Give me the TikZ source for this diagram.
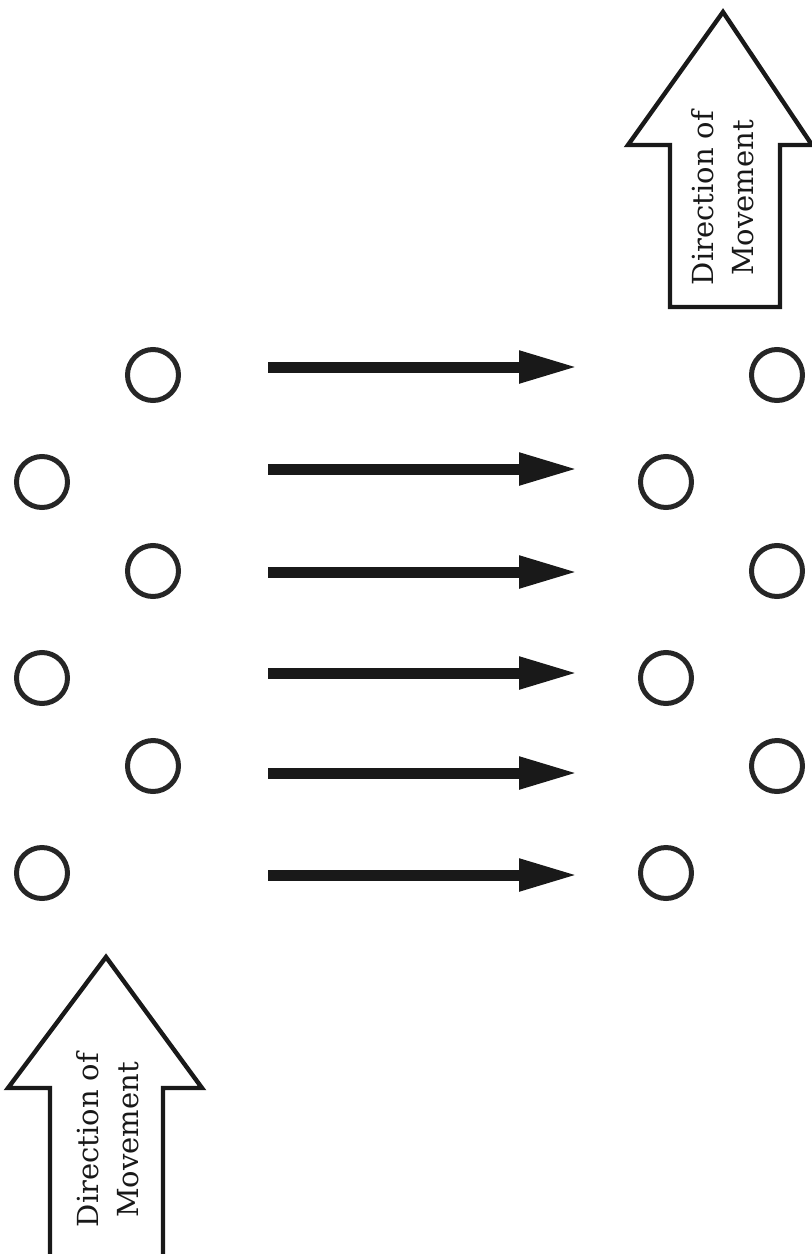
\documentclass[tikz,border=0pt]{standalone}
\usepackage{fontspec}
\newfontfamily\lblfont{DejaVu Serif}
\usetikzlibrary{arrows.meta}
\begin{document}
\begin{tikzpicture}[x=0.5pt,y=-0.5pt,
  dot/.style={circle,draw=black!85,line width=2.5pt,minimum size=25.5pt,inner sep=0pt},
  flow/.style={draw=black!90,line width=5.5pt,-{Triangle[length=29.5pt,width=15pt]}},
  bigarrow/.style={draw=black!90,line width=2.2pt,fill=white,line join=miter},
  lbl/.style={rotate=90,align=center,text=black!90,font=\lblfont\fontsize{14.5}{20}\selectfont}]
\useasboundingbox (0,0) rectangle (812,1254);
\clip (0,0) rectangle (812,1254);
% left group
\node[dot] (m1) at (153,375) {};
\node[dot] (l1) at (42,482) {};
\node[dot] (m2) at (153,571) {};
\node[dot] (l2) at (42,678) {};
\node[dot] (m3) at (153,766) {};
\node[dot] (l3) at (42,873) {};
% right group
\node[dot] (r1) at (777,375) {};
\node[dot] (q1) at (666,482) {};
\node[dot] (r2) at (777,571) {};
\node[dot] (q2) at (666,678) {};
\node[dot] (r3) at (777,766) {};
\node[dot] (q3) at (666,873) {};
% flow arrows
\foreach \i/\y in {1/367,2/469,3/572,4/673,5/773,6/875}{
  \coordinate (s\i) at (268,\y);
  \coordinate (e\i) at (578,\y);
  \draw[flow] (s\i) -- (e\i);
}
% top-right direction arrow
\draw[bigarrow] (723,12) -- (812,145) -- (780,145) -- (780,307) -- (670,307) -- (670,145) -- (628,145) -- cycle;
\node[lbl] (t1) at (723,198) {Direction of\\Movement};
% bottom-left direction arrow
\draw[bigarrow] (106,957) -- (202,1088) -- (163,1088) -- (163,1270) -- (50,1270) -- (50,1088) -- (8,1088) -- cycle;
\node[lbl] (t2) at (108,1140) {Direction of\\Movement};
\end{tikzpicture}
\end{document}
